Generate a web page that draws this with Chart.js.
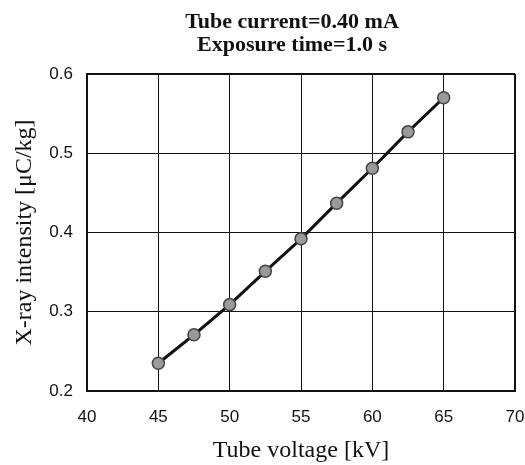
<!DOCTYPE html>
<html>
<head>
<meta charset="utf-8">
<script src="https://cdn.jsdelivr.net/npm/chart.js@4"></script>
<style>
  html, body { margin: 0; padding: 0; background: #fff; }
  canvas { display: block; }
</style>
</head>
<body>
<canvas id="xrayChart" width="525" height="465"></canvas>
<script>
const voltages = [45, 47.5, 50, 52.5, 55, 57.5, 60, 62.5, 65];
const intensities = [0.235, 0.271, 0.309, 0.351, 0.392, 0.437, 0.481, 0.527, 0.570];
const titleLines = ['Tube current=0.40 mA', 'Exposure time=1.0 s'];
const xTitle = 'Tube voltage [kV]';
const yTitle = 'X-ray intensity [\u03bcC/kg]';

// two-line heading centred over the plot area
const headingPlugin = {
  id: 'heading',
  afterDraw(chart) {
    const { ctx, chartArea } = chart;
    const cx = (chartArea.left + chartArea.right) / 2 - 9;
    ctx.save();
    ctx.fillStyle = '#111';
    ctx.font = 'bold 22px "Liberation Serif", serif';
    ctx.textAlign = 'center';
    ctx.textBaseline = 'middle';
    ctx.fillText(titleLines[0], cx, 22);
    ctx.fillText(titleLines[1], cx, 45);
    ctx.restore();
  }
};

const edgeWidth = ctx => (ctx.index === 0 || ctx.index === ctx.scale.ticks.length - 1) ? 2 : 1;

new Chart(document.getElementById('xrayChart').getContext('2d'), {
  type: 'line',
  data: {
    datasets: [{
      data: voltages.map((v, i) => ({ x: v, y: intensities[i] })),
      borderColor: '#111',
      borderWidth: 3,
      pointRadius: 6,
      pointBackgroundColor: '#9a9a9a',
      pointBorderColor: '#444',
      pointBorderWidth: 1.5,
      tension: 0
    }]
  },
  options: {
    responsive: false,
    animation: false,
    layout: { padding: { top: 74, right: 10, left: 0, bottom: 0 } },
    plugins: { legend: { display: false }, tooltip: { enabled: false } },
    scales: {
      x: {
        type: 'linear',
        min: 40,
        max: 70,
        ticks: { stepSize: 5, padding: 16, color: '#111', font: { family: '"Liberation Sans", Arial, sans-serif', size: 17 } },
        grid: { color: '#111', lineWidth: edgeWidth, drawTicks: false },
        border: { color: '#111', width: 2 },
        title: { display: true, text: xTitle, color: '#111', padding: { top: 11, bottom: 0 }, font: { family: '"Liberation Serif", serif', size: 24 } },
        afterFit: scale => { scale.height = 465 - 391; scale.paddingRight = 0; scale.paddingLeft = 0; }
      },
      y: {
        min: 0.2,
        max: 0.6,
        ticks: { stepSize: 0.1, padding: 14, color: '#111', font: { family: '"Liberation Sans", Arial, sans-serif', size: 17 }, callback: v => v.toFixed(1) },
        grid: { color: '#111', lineWidth: edgeWidth, drawTicks: false },
        border: { color: '#111', width: 2 },
        title: { display: true, text: yTitle, color: '#111', padding: { top: 10 }, font: { family: '"Liberation Serif", serif', size: 24 } },
        afterFit: scale => { scale.width = 87; scale.paddingTop = 0; scale.paddingBottom = 0; }
      }
    }
  },
  plugins: [headingPlugin]
});
</script>
</body>
</html>
